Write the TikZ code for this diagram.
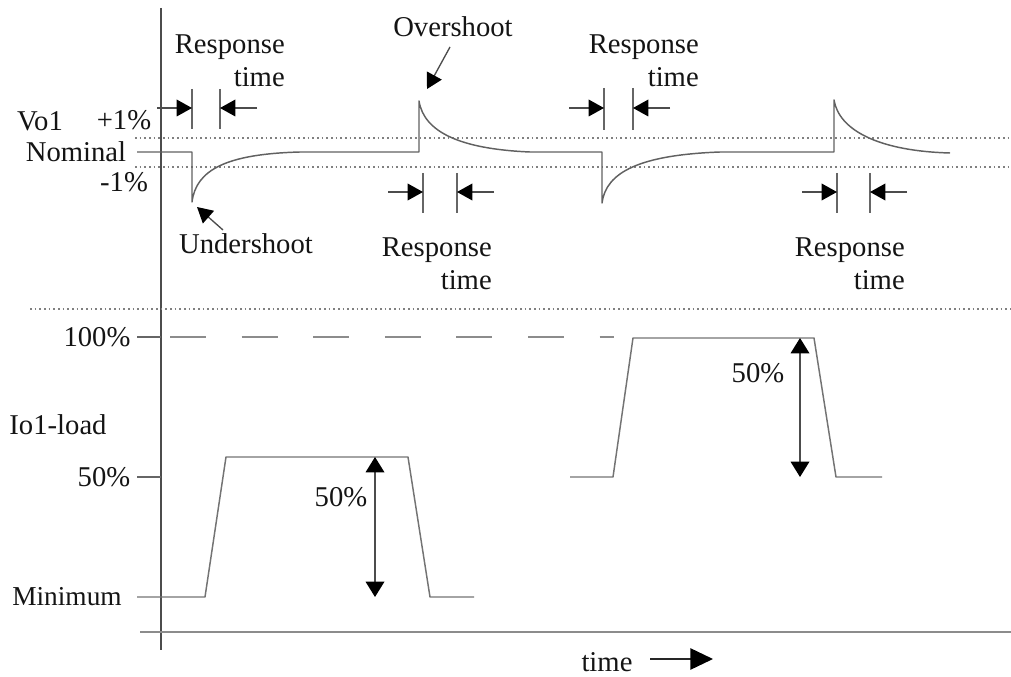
\documentclass[tikz,border=0pt]{standalone}
\usepackage{fontspec}
\setmainfont{Liberation Serif}
\usetikzlibrary{arrows.meta}
\begin{document}
\begin{tikzpicture}[x=0.75pt,y=-0.75pt,
  lbl/.style={font=\fontsize{21.5}{24.75}\selectfont, text=black!92, inner sep=0pt},
  trace/.style={draw=black!62, line width=1.1pt, line join=round},
  pulse/.style={draw=black!55, line width=1.1pt, line join=round},
  axisline/.style={draw=black!70, line width=1.2pt},
  dotline/.style={draw=black!50, line width=1.1pt, dash pattern=on 1.2pt off 2.3pt},
  tickmark/.style={draw=black!60, line width=1pt},
  tri/.style={draw=black!70, line width=1pt, -{Triangle[length=11.5pt,width=12.5pt,color=black,fill=black]}},
  bothtri/.style={draw=black!70, line width=1pt,
    {Triangle[length=11.5pt,width=14pt,color=black,fill=black]}-{Triangle[length=11.5pt,width=14pt,color=black,fill=black]}}
]
\useasboundingbox (0,0) rectangle (1011,677);

% ---------- axes and level lines ----------
\draw[axisline] (161,8) -- (161,650);
\draw[draw=black!45, line width=1.1pt] (140,632) -- (1011,632);
\draw[dotline] (135,138) -- (1011,138);
\draw[dotline] (135,167) -- (1011,167);
\draw[dotline] (30,309) -- (1011,309);

% ---------- output voltage trace ----------
\draw[trace] (137,152) -- (192,152) -- (192,202)
  .. controls (196,170) and (226,154) .. (300,152) -- (419,152) -- (419,101)
  .. controls (424,132) and (460,149) .. (530,152) -- (602,152) -- (602,203)
  .. controls (606,172) and (640,155) .. (720,152) -- (834,152) -- (834,100)
  .. controls (839,130) and (878,151) .. (950,153);

% ---------- labels of the voltage panel ----------
\node[lbl] (vo) at (40,121) {Vo1};
\node[lbl] (plus) at (124,120) {+1\%};
\node[lbl] (nom) at (76,152) {Nominal};
\node[lbl] (minus) at (124,182) {-1\%};

\node[lbl] (ovs) at (453,27) {Overshoot};
\node[lbl] (uns) at (246,244) {Undershoot};
\coordinate (ovs-tail) at (450,47);
\coordinate (ovs-tip) at (427,89);
\coordinate (uns-tail) at (223,230);
\coordinate (uns-tip) at (197,207);
\draw[tri] (ovs-tail) -- (ovs-tip);
\draw[tri] (uns-tail) -- (uns-tip);

% response time markers: left tick / right tick / top / bottom / arrow level
\foreach \a/\b/\yt/\yb/\ya in {192/220/89/129/108, 423/457/173/213/192,
                              604/633/88/130/108, 837/870/173/213/192} {
  \draw[tickmark] (\a,\yt) -- (\a,\yb);
  \draw[tickmark] (\b,\yt) -- (\b,\yb);
  \draw[tri] ({\a-35},\ya) -- (\a,\ya);
  \draw[tri] ({\b+37},\ya) -- (\b,\ya);
}
\node[lbl, anchor=east, align=right] (rt1) at (285,61) {Response\\time};
\node[lbl, anchor=east, align=right] (rt2) at (492,264) {Response\\time};
\node[lbl, anchor=east, align=right] (rt3) at (699,61) {Response\\time};
\node[lbl, anchor=east, align=right] (rt4) at (905,264) {Response\\time};

% ---------- load current panel ----------
\node[lbl] (full) at (97,337) {100\%};
\node[lbl] (io) at (58,425) {Io1-load};
\node[lbl] (half) at (104,477) {50\%};
\node[lbl, font=\fontsize{20.5}{24}\selectfont] (mini) at (67,597) {Minimum};

\draw[tickmark] (137,337) -- (161,337);
\draw[tickmark] (137,477) -- (161,477);
\draw[draw=black!45, line width=1.1pt, dash pattern=on 27pt off 26.7pt] (170,337) -- (614,337);

\draw[pulse] (137,597) -- (205,597) -- (226,457) -- (408,457) -- (430,597) -- (474,597);
\draw[pulse] (570,477) -- (613,477) -- (633,338) -- (814,338) -- (836,477) -- (882,477);

\coordinate (s1-top) at (375,457);
\coordinate (s1-bot) at (375,597);
\coordinate (s2-top) at (800,338);
\coordinate (s2-bot) at (800,477);
\draw[bothtri] (s1-top) -- (s1-bot);
\draw[bothtri] (s2-top) -- (s2-bot);
\node[lbl] (d1) at (341,497) {50\%};
\node[lbl] (d2) at (758,373) {50\%};

% ---------- time arrow ----------
\node[lbl] (tm) at (607,662) {time};
\coordinate (tm-end) at (713,659);
\draw[draw=black!85, line width=1.2pt, -{Triangle[length=17pt,width=16pt,color=black,fill=black]}] (650,659) -- (tm-end);
\end{tikzpicture}
\end{document}
